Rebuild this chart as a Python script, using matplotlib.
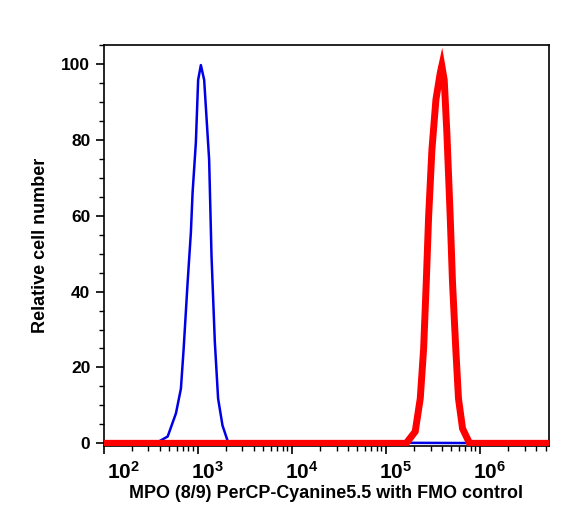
import numpy as np
import matplotlib
matplotlib.use('Agg')
import matplotlib.pyplot as plt
import matplotlib.transforms as mtransforms
from matplotlib.ticker import FixedLocator, FixedFormatter, LogLocator, NullFormatter, MultipleLocator

plt.rcParams['font.family'] = 'Liberation Sans'
plt.rcParams['font.weight'] = 'bold'
plt.rcParams['mathtext.fontset'] = 'custom'
plt.rcParams['mathtext.rm'] = 'Liberation Sans:bold'
plt.rcParams['mathtext.bf'] = 'Liberation Sans:bold'

# FMO control (blue)
fmo_x = [100, 330, 389, 481, 589, 665, 711, 784, 849, 885, 959, 1014, 1084,
         1175, 1327, 1407, 1525, 1653, 1841, 2109, 5.45e6]
fmo_y = [0, 0, 0.5, 1.8, 7.9, 14.4, 24.9, 42.5, 55.6, 66.1, 79.3, 95.8, 99.7,
         95.8, 74.8, 49.3, 26.8, 11.8, 4.7, 0.3, 0]

# MPO stained (red)
mpo_x = [100, 1.65e5, 2.06e5, 2.33e5, 2.53e5, 2.70e5, 2.86e5, 3.10e5, 3.42e5,
         3.80e5, 3.95e5, 4.19e5, 4.47e5, 4.85e5, 5.13e5, 5.56e5, 5.94e5,
         6.56e5, 7.8e5, 5.45e6]
mpo_y = [0, 0, 3.1, 11.8, 24.9, 42.5, 59.8, 77.4, 90.6, 97.6, 99.5, 95.8,
         81.9, 59.8, 42.5, 24.9, 11.8, 3.9, 0, 0]

decades = [1e2, 1e3, 1e4, 1e5, 1e6]
decade_labels = [r'$\mathbf{10^{%d}}$' % int(np.log10(d)) for d in decades]

fig = plt.figure(figsize=(5.7, 5.16), dpi=100)
ax = fig.add_axes([0.1816, 0.1357, 0.7816, 0.7771])

ax.plot(fmo_x, fmo_y, color='#0000e6', lw=1.8, zorder=2)
ax.plot(mpo_x, mpo_y, color='#ff0000', lw=5, zorder=3,
        solid_joinstyle='miter')

ax.set_xscale('log')
ax.set_xlim(100, 5.45e6)
ax.set_ylim(-0.7, 105)

ax.xaxis.set_major_locator(FixedLocator(decades))
ax.xaxis.set_major_formatter(FixedFormatter(decade_labels))
ax.xaxis.set_minor_locator(LogLocator(base=10, subs=np.arange(2, 10), numticks=20))
ax.xaxis.set_minor_formatter(NullFormatter())
ax.yaxis.set_major_locator(MultipleLocator(20))
ax.yaxis.set_minor_locator(MultipleLocator(5))

ax.tick_params(which='major', direction='out', length=6, width=1.2)
ax.tick_params(which='minor', direction='out', length=3.5, width=1)
ax.tick_params(axis='x', labelsize=15, pad=5)
ax.tick_params(axis='y', labelsize=12.5)
ax.tick_params(top=False, right=False)
for s in ax.spines.values():
    s.set_linewidth(1.2)

# decade labels sit a little right of their ticks
for i, tick in enumerate(ax.xaxis.get_major_ticks()):
    dx = 20 if i == 0 else 10
    shift = mtransforms.ScaledTranslation(dx / 100, 0, fig.dpi_scale_trans)
    tick.label1.set_transform(tick.label1.get_transform() + shift)

ax.set_xlabel('MPO (8/9) PerCP-Cyanine5.5 with FMO control', fontsize=12.9,
              fontweight='bold', labelpad=1)
ax.set_ylabel('Relative cell number', fontsize=13, fontweight='bold', labelpad=9)

fig.savefig('out.png', dpi=100)
